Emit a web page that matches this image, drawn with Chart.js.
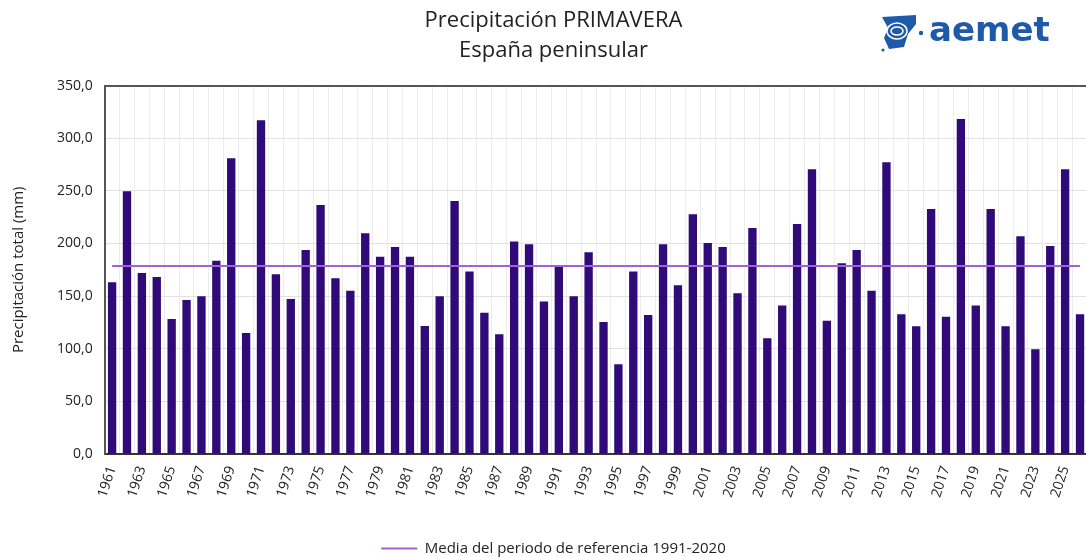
<!DOCTYPE html>
<html>
<head>
<meta charset="utf-8">
<script src="https://cdn.jsdelivr.net/npm/chart.js@4"></script>
<style>
  html, body { margin: 0; padding: 0; background: #fff; overflow: hidden; }
  #wrap { width: 1106px; height: 557px; }
</style>
</head>
<body>
<div id="wrap"><canvas id="chart"></canvas></div>
<script>
const years = [];
for (let y = 1961; y <= 2026; y++) years.push(String(y));

const precip = [
  163.1, 249.6, 172.0, 168.2, 128.3, 146.3, 149.8, 183.7, 281.0, 115.0,
  317.0, 170.7, 147.3, 193.9, 236.6, 166.9, 155.2, 209.7, 187.5, 196.7,
  187.5, 121.6, 149.8, 240.4, 173.3, 134.3, 113.7, 201.8, 199.2, 144.8,
  177.6, 149.8, 191.6, 125.4, 85.2, 173.3, 132.1, 199.2, 160.3, 227.7,
  200.5, 196.7, 152.7, 214.8, 109.9, 141.0, 218.6, 270.5, 126.7, 181.2,
  193.9, 155.2, 277.2, 132.7, 121.3, 232.8, 130.5, 318.3, 141.0, 232.8,
  121.3, 206.8, 99.5, 197.7, 270.5, 132.7
];

const refMean = 178.7;
const meanLine = years.map(() => refMean);

const logo = {
  id: "logo",
  afterDraw(chart) {
    const ctx = chart.ctx;
    ctx.save();
    ctx.fillStyle = "#1f5aa8";
    // small map-like mark
    ctx.beginPath();
    ctx.moveTo(882, 17); ctx.lineTo(916, 15); ctx.lineTo(916, 24);
    ctx.lineTo(908, 34); ctx.lineTo(904, 47); ctx.lineTo(889, 49);
    ctx.lineTo(884, 38); ctx.lineTo(888, 28); ctx.closePath();
    ctx.fill();
    ctx.strokeStyle = "#fff";
    ctx.lineWidth = 1.5;
    ctx.beginPath(); ctx.ellipse(897, 31, 6, 4, 0, 0, Math.PI * 2); ctx.stroke();
    ctx.beginPath(); ctx.ellipse(897, 31, 10, 8, 0, 0, Math.PI * 2); ctx.stroke();
    ctx.beginPath(); ctx.arc(921, 33, 2.2, 0, Math.PI * 2); ctx.fill();
    ctx.beginPath(); ctx.arc(883, 50, 1.6, 0, Math.PI * 2); ctx.fill();
    ctx.font = "bold 34px 'DejaVu Sans'";
    ctx.textBaseline = "middle";
    ctx.fillText("aemet", 929, 32);
    ctx.restore();
  }
};

new Chart(document.getElementById("chart"), {
  type: "bar",
  data: {
    labels: years,
    datasets: [
      {
        type: "line",
        label: "Media del periodo de referencia 1991-2020",
        data: meanLine,
        borderColor: "#a062d8",
        backgroundColor: "#a062d8",
        borderWidth: 2,
        pointRadius: 0,
        pointStyle: "line",
        order: 0
      },
      {
        label: "Precipitación",
        data: precip,
        backgroundColor: "#300a78",
        barPercentage: 0.56,
        categoryPercentage: 1,
        order: 1
      }
    ]
  },
  options: {
    responsive: true,
    maintainAspectRatio: false,
    animation: false,
    layout: { padding: { left: 1, right: 0, top: 5, bottom: -9 } },
    plugins: {
      title: {
        display: true,
        text: ["Precipitación PRIMAVERA", "España peninsular"],
        color: "#222",
        font: { family: "'Open Sans'", size: 22, weight: "normal", lineHeight: 1.4 },
        padding: { top: 0, bottom: 19 }
      },
      legend: {
        position: "bottom",
        labels: {
          filter: (item) => item.datasetIndex === 0,
          usePointStyle: true,
          pointStyleWidth: 36,
          boxWidth: 36,
          padding: 0,
          color: "#222",
          font: { family: "'Open Sans'", size: 15 }
        }
      },
      tooltip: { enabled: false }
    },
    scales: {
      x: {
        grid: { color: "#ececec", drawTicks: false },
        border: { color: "#333", width: 2 },
        afterFit: (axis) => { axis.height = 87; },
        ticks: {
          autoSkip: false,
          maxRotation: 72,
          minRotation: 72,
          padding: 10,
          color: "#222",
          font: { family: "'Open Sans'", size: 14 },
          callback: function (value, index) {
            return index % 2 === 0 ? this.getLabelForValue(value) : "";
          }
        }
      },
      y: {
        min: 0,
        max: 350,
        title: {
          display: true,
          text: "Precipitación total (mm)",
          color: "#222",
          font: { family: "'Open Sans'", size: 15 },
          padding: { top: 9, bottom: 17 }
        },
        grid: {
          drawTicks: false,
          color: (c) => (c.tick && c.tick.value === 350 ? "#555" : "#e2e2e2"),
          lineWidth: (c) => (c.tick && c.tick.value === 350 ? 2 : 1)
        },
        border: { color: "#555", width: 2 },
        ticks: {
          stepSize: 50,
          padding: 12,
          color: "#222",
          font: { family: "'Open Sans'", size: 14 },
          callback: (v) => v.toFixed(1).replace(".", ",")
        }
      }
    }
  },
  plugins: [logo]
});
</script>
</body>
</html>
